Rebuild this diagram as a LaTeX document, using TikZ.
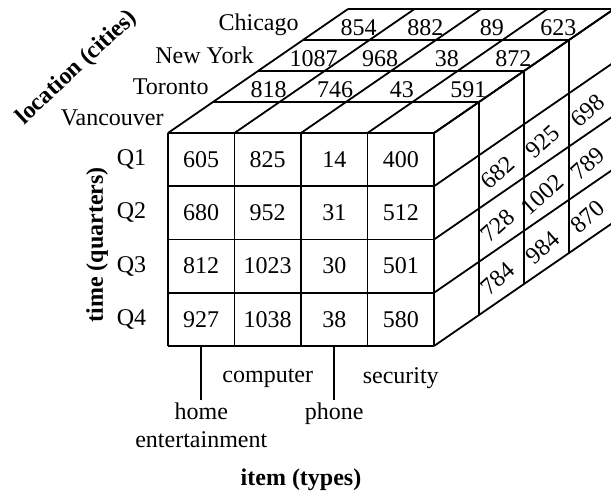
\documentclass[tikz,border=0pt]{standalone}
\usepackage{fontspec}
\setmainfont{Liberation Serif}
\usetikzlibrary{positioning}

\begin{document}
\begin{tikzpicture}[x={(33.25pt,0pt)},y={(0pt,-26.625pt)},z={(22.5pt,15.5pt)},
  line width=0.9pt,font=\fontsize{12}{14}\selectfont,
  val/.style={inner sep=1pt},
  side/.style={inner sep=1pt,xshift=-2pt,yshift=-3pt,rotate=42},
  city/.style={anchor=east,inner sep=0pt,xshift=-13pt},
  quarter/.style={anchor=east,inner sep=0pt,xshift=-10.5pt},
  axis/.style={font=\fontsize{12}{14}\selectfont\bfseries},
  item/.style={inner sep=1pt,align=center}]
\useasboundingbox (-84pt,-180.5pt) rectangle (221.5pt,66.5pt);
\clip (-84pt,-180.5pt) rectangle (221.5pt,66.5pt);
\coordinate (o) at (0,0,0);
% cube grid: front, top, right
\foreach \i in {0,...,4}{
  \draw (\i,0,0)--(\i,4,0);
  \draw (0,\i,0)--(4,\i,0);
  \draw (\i,0,0)--(\i,0,4);
  \draw (0,0,\i)--(4,0,\i);
  \draw (4,\i,0)--(4,\i,4);
  \draw (4,0,\i)--(4,4,\i);
}
% front face (Vancouver)
\foreach \a/\b/\c/\d [count=\r from 0] in {605/825/14/400,680/952/31/512,812/1023/30/501,927/1038/38/580}{
  \node[val] (f\r-1) at (0.5,\r+0.5,0) {\a};
  \node[val] (f\r-2) at (1.5,\r+0.5,0) {\b};
  \node[val] (f\r-3) at (2.5,\r+0.5,0) {\c};
  \node[val] (f\r-4) at (3.5,\r+0.5,0) {\d};
}
% top face, Q1 of the cities behind
\foreach \a/\b/\c/\d [count=\k from 1] in {818/746/43/591,1087/968/38/872,854/882/89/623}{
  \node[val,yshift=-1.5pt] (t\k-1) at (0.5,0,\k+0.5) {\a};
  \node[val,yshift=-1.5pt] (t\k-2) at (1.5,0,\k+0.5) {\b};
  \node[val,yshift=-1.5pt] (t\k-3) at (2.5,0,\k+0.5) {\c};
  \node[val,yshift=-1.5pt] (t\k-4) at (3.5,0,\k+0.5) {\d};
}
% right face, security Q2..Q4
\foreach \p/\q/\s [count=\k from 1] in {682/728/784,925/1002/984,698/789/870}{
  \node[side] (s\k-2) at (4,1.5,\k+0.5) {\p};
  \node[side] (s\k-3) at (4,2.5,\k+0.5) {\q};
  \node[side] (s\k-4) at (4,3.5,\k+0.5) {\s};
}
% labels
\foreach \name [count=\k from 0] in {Vancouver,Toronto,New York,Chicago}
  {\node[city] (c\k) at (0,0,\k+0.5) {\name};}
\foreach \r in {1,...,4}
  {\node[quarter] (q\r) at (0,\r-0.5,0) {Q\r};}
\path (0,2.1,0) ++(-35.5pt,0pt) node[axis,rotate=90] (time) {time (quarters)};
\path (o) ++(-45.5pt,32.5pt) node[axis,rotate=43] (loc) {location (cities)};
\coordinate (b1) at (0.5,4,0);
\coordinate (b3) at (2.5,4,0);
\node[item,below=27pt of b1] (home) {home\\entertainment};
\node[item,below=27pt of b3] (phone) {phone};
\draw (b1)--(home);
\draw (b3)--(phone);
\path (1.5,4,0) ++(0pt,-16pt) node[item] (comp) {computer};
\path (3.5,4,0) ++(0pt,-16pt) node[item] (sec) {security};
\path (2,4,0) ++(0pt,-67pt) node[axis] (itm) {item (types)};
\end{tikzpicture}
\end{document}
